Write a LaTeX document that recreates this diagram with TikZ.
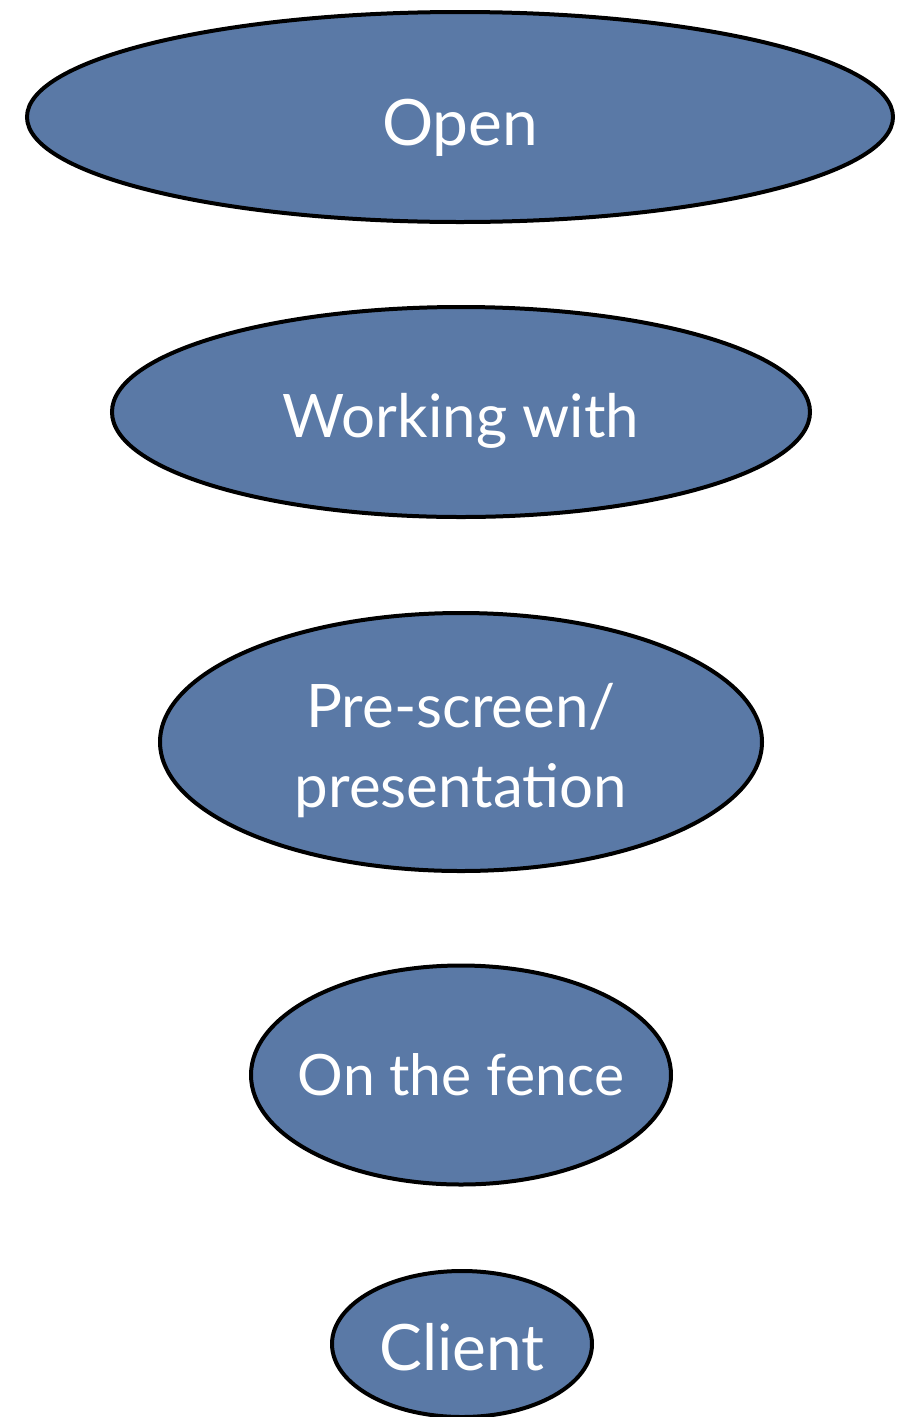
\documentclass[tikz,border=0pt]{standalone}
\usepackage{fontspec}
\setmainfont{Lato}
\usetikzlibrary{shapes.geometric}
\definecolor{fillblue}{HTML}{5A79A6}
\tikzset{
  stage/.style={ellipse, draw=black, line width=4pt, fill=fillblue, text=white,
    inner sep=0pt, font=\fontsize{60}{80}\selectfont, align=center, text depth=0pt},
}
\begin{document}
\begin{tikzpicture}[x=1pt,y=-1pt]
\useasboundingbox (0,0) rectangle (905,1417);
\node[stage, minimum width=866pt, minimum height=210pt, text height=56pt,
  font=\fontsize{64}{80}\selectfont] (open) at (460,117) {Open};
\node[stage, minimum width=698pt, minimum height=210pt, text height=50pt] (work) at (461,412) {Working with};
\node[stage, minimum width=602pt, minimum height=258pt, text height=130pt] (pre) at (461,742) {Pre-screen/\\presentation};
\node[stage, minimum width=420pt, minimum height=219pt, text height=40pt,
  font=\fontsize{57}{80}\selectfont] (fence) at (461,1075) {\makebox[0pt]{On the fence}};
\node[stage, minimum width=260pt, minimum height=146pt, text height=52pt,
  font=\fontsize{64}{80}\selectfont] (client) at (462,1344) {\makebox[0pt]{Client}};
\end{tikzpicture}
\end{document}
